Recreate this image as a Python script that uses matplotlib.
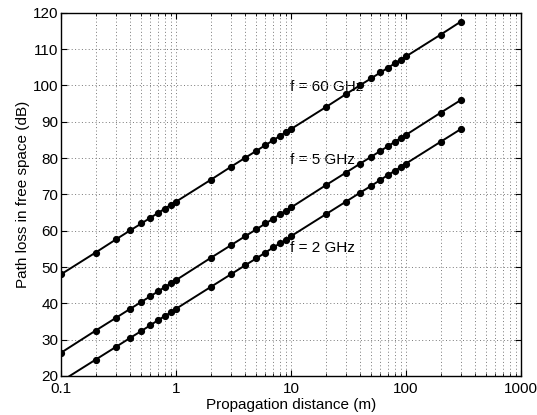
import matplotlib
matplotlib.use("Agg")
import matplotlib.pyplot as plt
from matplotlib.ticker import FixedLocator, FixedFormatter, LogLocator, NullFormatter

plt.rcParams['font.family'] = ['Liberation Sans', 'DejaVu Sans']

distance_m = [0.1, 0.2, 0.3, 0.4, 0.5, 0.6, 0.7, 0.8, 0.9,
              1, 2, 3, 4, 5, 6, 7, 8, 9,
              10, 20, 30, 40, 50, 60, 70, 80, 90,
              100, 200, 300]

loss_60ghz = [48.0, 54.0, 57.6, 60.1, 62.0, 63.6, 64.9, 66.1, 67.1,
              68.0, 74.0, 77.6, 80.1, 82.0, 83.6, 84.9, 86.1, 87.1,
              88.0, 94.0, 97.6, 100.1, 102.0, 103.6, 104.9, 106.1, 107.1,
              108.0, 114.0, 117.6]

loss_5ghz = [26.4, 32.5, 36.0, 38.5, 40.4, 42.0, 43.3, 44.5, 45.5,
             46.4, 52.5, 56.0, 58.5, 60.4, 62.0, 63.3, 64.5, 65.5,
             66.4, 72.5, 76.0, 78.5, 80.4, 82.0, 83.3, 84.5, 85.5,
             86.4, 92.5, 96.0]

loss_2ghz = [18.5, 24.5, 28.0, 30.5, 32.4, 34.0, 35.4, 36.5, 37.5,
             38.5, 44.5, 48.0, 50.5, 52.4, 54.0, 55.4, 56.5, 57.5,
             58.5, 64.5, 68.0, 70.5, 72.4, 74.0, 75.4, 76.5, 77.5,
             78.5, 84.5, 88.0]

labels = ["f = 60 GHz", "f = 5 GHz", "f = 2 GHz"]
label_pos = [(9.9, 99.6), (9.9, 79.5), (9.9, 55.3)]

x_ticks = [0.1, 1, 10, 100, 1000]
x_ticklabels = ["0.1", "1", "10", "100", "1000"]
y_ticks = [20, 30, 40, 50, 60, 70, 80, 90, 100, 110, 120]

fig = plt.figure(figsize=(5.37, 4.15), dpi=100)
ax = fig.add_axes([0.1136, 0.094, 0.8566, 0.875])

for txt, (tx, ty) in zip(labels, label_pos):
    ax.text(tx, ty, txt, ha='left', va='center', fontsize=11, zorder=1.5)

for series in (loss_60ghz, loss_5ghz, loss_2ghz):
    ax.plot(distance_m, series, color='black', linewidth=1.4,
            marker='o', markersize=4.2, markerfacecolor='black',
            markeredgecolor='black', zorder=3)

ax.set_xscale('log')
ax.set_xlim(0.1, 1000)
ax.set_ylim(20, 120)
ax.xaxis.set_major_locator(FixedLocator(x_ticks))
ax.xaxis.set_major_formatter(FixedFormatter(x_ticklabels))
ax.xaxis.set_minor_locator(LogLocator(base=10, subs=range(2, 10), numticks=20))
ax.xaxis.set_minor_formatter(NullFormatter())
ax.set_yticks(y_ticks)

grid_kw = dict(linestyle=(0, (1, 2.5)), color='#777777', linewidth=0.7)
ax.grid(True, which='major', **grid_kw)
ax.grid(True, which='minor', axis='x', **grid_kw)

ax.tick_params(which='both', direction='in', top=True, right=True, labelsize=11, pad=2)
ax.tick_params(axis='x', which='major', pad=4)
ax.tick_params(which='major', length=4)
ax.tick_params(which='minor', length=2)
for s in ax.spines.values():
    s.set_linewidth(1.0)

ax.set_xlabel("Propagation distance (m)", fontsize=11, labelpad=1.5)
ax.set_ylabel("Path loss in free space (dB)", fontsize=11, labelpad=2)

fig.savefig("out.png", dpi=100)
